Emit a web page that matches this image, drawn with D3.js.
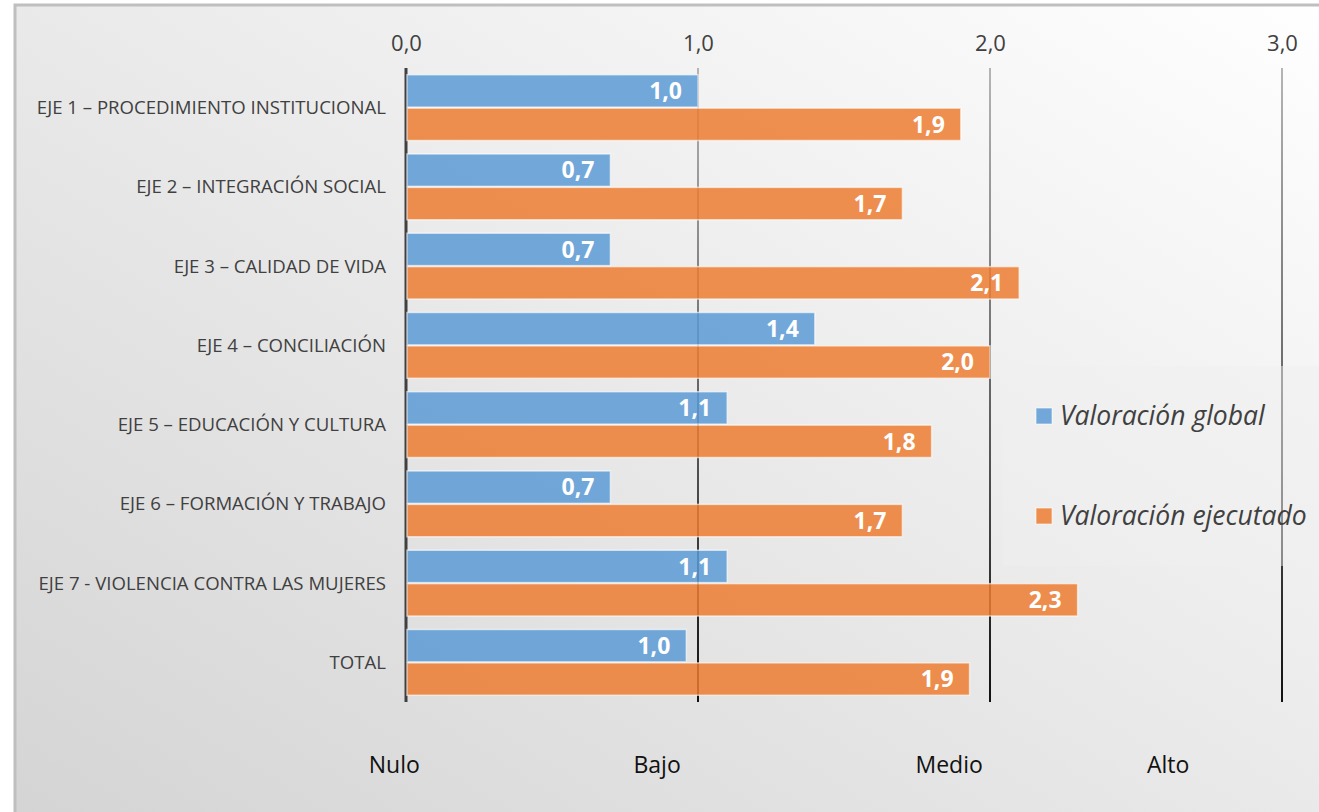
<!DOCTYPE html>
<html>
<head>
<meta charset="utf-8">
<script src="https://cdn.jsdelivr.net/npm/d3@7"></script>
<style>
  body { margin: 0; background: #fff; }
  svg { display: block; }
</style>
</head>
<body>
<svg id="chart" width="1319" height="812"></svg>
<script>
// Data
const categories = [
    "EJE 1 – PROCEDIMIENTO INSTITUCIONAL",
    "EJE 2 – INTEGRACIÓN SOCIAL",
    "EJE 3 – CALIDAD DE VIDA",
    "EJE 4 – CONCILIACIÓN",
    "EJE 5 – EDUCACIÓN Y CULTURA",
    "EJE 6 – FORMACIÓN Y TRABAJO",
    "EJE 7 - VIOLENCIA CONTRA LAS MUJERES",
    "TOTAL"
];
const valoracionGlobal = [1.0, 0.7, 0.7, 1.4, 1.1, 0.7, 1.1, 0.96];
const valoracionEjecutado = [1.9, 1.7, 2.1, 2.0, 1.8, 1.7, 2.3, 1.93];
const seriesNames = ["Valoración global", "Valoración ejecutado"];
const xTicks = [0, 1, 2, 3];
const levelLabels = ["Nulo", "Bajo", "Medio", "Alto"];
const levelAt = [-0.04, 0.86, 1.86, 2.61]; // where the level words sit, in axis units

const svg = d3.select("#chart");
const width = 1319, height = 812;

// Colors
const blue = "#5B9BD5";
const orange = "#ED7D31";
const textColor = "#404040";
const font = "'Open Sans', sans-serif";

const defs = svg.append("defs");
const bg = defs.append("linearGradient").attr("id", "bg")
    .attr("x1", "1").attr("y1", "0").attr("x2", "0").attr("y2", "1");
bg.append("stop").attr("offset", "0%").attr("stop-color", "#ffffff");
bg.append("stop").attr("offset", "100%").attr("stop-color", "#d4d4d4");

// vertical fade for the gridlines, light at the top, dark at the bottom
const gridGrad = defs.append("linearGradient").attr("id", "grid")
    .attr("x1", 0).attr("y1", 0).attr("x2", 0).attr("y2", 1);
gridGrad.append("stop").attr("offset", "0%").attr("stop-color", "#b5b5b5");
gridGrad.append("stop").attr("offset", "45%").attr("stop-color", "#707070");
gridGrad.append("stop").attr("offset", "100%").attr("stop-color", "#111111");

// Chart frame
svg.append("rect")
    .attr("x", 15).attr("y", 5)
    .attr("width", width + 10).attr("height", height + 10)
    .attr("fill", "url(#bg)")
    .attr("stroke", "#bfbfbf").attr("stroke-width", 3);

// Scales
const x = d3.scaleLinear().domain([0, 3]).range([406, 1282]);
const y = d3.scaleBand().domain(categories).range([68, 702]).paddingInner(0.17).paddingOuter(0.085);
const ySub = d3.scaleBand().domain(seriesNames).range([0, y.bandwidth()]).paddingInner(0.03);

const fmt = v => d3.format(".1f")(v).replace(".", ",");

// Gridlines (thin rects so the gradient fill works)
svg.append("g").selectAll("rect")
    .data(xTicks)
    .join("rect")
    .attr("x", d => x(d) - (d === 0 ? 1.5 : 1))
    .attr("width", d => d === 0 ? 3 : 2)
    .attr("y", 68).attr("height", 702 - 68)
    .attr("fill", d => d === 0 ? "#404040" : "url(#grid)");

// Top axis
const axis = svg.append("g")
    .attr("transform", "translate(0,51)")
    .call(d3.axisTop(x).tickValues(xTicks).tickFormat(fmt).tickSize(0).tickPadding(0));
axis.select(".domain").remove();
axis.selectAll("text")
    .attr("font-family", font)
    .attr("font-size", 22)
    .attr("fill", textColor);

// Category labels
svg.append("g").selectAll("text")
    .data(categories)
    .join("text")
    .attr("x", 386)
    .attr("y", d => y(d) + y.bandwidth() / 2)
    .attr("dy", "0.35em")
    .attr("text-anchor", "end")
    .attr("font-family", font)
    .attr("font-size", 18.6)
    .attr("fill", textColor)
    .text(d => d);

// Bars
const series = [
    {name: seriesNames[0], color: blue, values: valoracionGlobal},
    {name: seriesNames[1], color: orange, values: valoracionEjecutado}
];

series.forEach(s => {
    const g = svg.append("g");
    g.selectAll("rect")
        .data(categories)
        .join("rect")
        .attr("x", x(0) + 1)
        .attr("y", d => y(d) + ySub(s.name))
        .attr("width", (d, i) => x(s.values[i]) - x(0) - 1)
        .attr("height", ySub.bandwidth())
        .attr("fill", s.color)
        .attr("fill-opacity", 0.85)
        .attr("stroke", "#ffffff")
        .attr("stroke-opacity", 0.6)
        .attr("stroke-width", 1.5);

    g.selectAll("text")
        .data(categories)
        .join("text")
        .attr("x", (d, i) => x(s.values[i]) - 16)
        .attr("y", d => y(d) + ySub(s.name) + ySub.bandwidth() / 2)
        .attr("dy", "0.36em")
        .attr("text-anchor", "end")
        .attr("font-family", font)
        .attr("font-weight", "bold")
        .attr("font-size", 23)
        .attr("fill", "#ffffff")
        .text((d, i) => fmt(s.values[i]));
});

// Level words under the chart
svg.append("g").selectAll("text")
    .data(levelLabels)
    .join("text")
    .attr("x", (d, i) => x(levelAt[i]))
    .attr("y", 773)
    .attr("text-anchor", "middle")
    .attr("font-family", font)
    .attr("font-size", 23)
    .attr("fill", "#111")
    .text(d => d);

// Legend (semi-transparent box over the gridline)
svg.append("rect")
    .attr("x", 1003).attr("y", 366)
    .attr("width", 320).attr("height", 200)
    .attr("fill", "#f0f0f0").attr("fill-opacity", 0.45);

const legendItems = svg.append("g").selectAll("g")
    .data(series)
    .join("g")
    .attr("transform", (d, i) => `translate(1036,${408 + i * 100})`);
legendItems.append("rect")
    .attr("width", 16).attr("height", 16)
    .attr("fill", d => d.color).attr("fill-opacity", 0.85)
    .attr("stroke", "#fff").attr("stroke-opacity", 0.6);
legendItems.append("text")
    .attr("x", 24).attr("y", 17)
    .attr("font-family", font)
    .attr("font-style", "italic")
    .attr("font-size", 26.5)
    .attr("fill", textColor)
    .text(d => d.name);
</script>
</body>
</html>
